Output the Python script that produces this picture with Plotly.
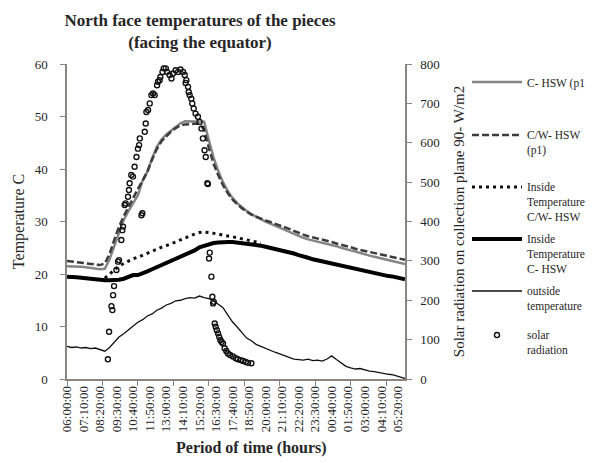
import plotly.graph_objects as go

# ---------------- data ----------------
# time axis: minutes elapsed since 06:00:00
TICK_MINUTES = [0, 70, 140, 210, 280, 350, 420, 490, 560, 630, 700, 770, 840, 910,
                980, 1050, 1120, 1190, 1260, 1330, 1400]
TICK_LABELS = ["06:00:00", "07:10:00", "08:20:00", "09:30:00", "10:40:00", "11:50:00",
               "13:00:00", "14:10:00", "15:20:00", "16:30:00", "17:40:00", "18:50:00",
               "20:00:00", "21:10:00", "22:20:00", "23:30:00", "00:40:00", "01:50:00",
               "03:00:00", "04:10:00", "05:20:00"]

T_MIN = [0, 20, 40, 60, 80, 100, 120, 140, 160, 180, 200, 220, 240, 260, 280, 300, 320, 340,
         360, 380, 400, 420, 440, 460, 480, 500, 520, 540, 560, 580, 600, 620, 640, 660, 680,
         700, 720, 740, 760, 780, 800, 820, 840, 860, 880, 900, 920, 940, 960, 980, 1000,
         1020, 1040, 1060, 1080, 1100, 1120, 1140, 1160, 1180, 1200, 1220, 1240, 1260, 1280,
         1300, 1320, 1340, 1360, 1380, 1400, 1420, 1430]

C_HSW = [21.5, 21.5, 21.4, 21.4, 21.3, 21.2, 21.0, 20.9, 21.0, 22.8, 25.3, 28.0, 30.3, 32.0,
         33.6, 35.0, 37.8, 39.5, 42.0, 44.2, 45.6, 46.6, 47.3, 48.0, 48.7, 49.1, 49.1, 49.1,
         49.1, 49.0, 45.5, 42.2, 39.6, 37.5, 35.8, 34.5, 33.5, 32.7, 32.0, 31.4, 30.9, 30.4,
         30.0, 29.6, 29.2, 28.8, 28.4, 28.0, 27.6, 27.2, 26.9, 26.6, 26.4, 26.2, 26.0, 25.8,
         25.6, 25.3, 25.0, 24.7, 24.5, 24.3, 24.0, 23.8, 23.5, 23.3, 23.1, 22.9, 22.7, 22.5,
         22.3, 22.0, 21.9]

CW_HSW = [22.5, 22.4, 22.3, 22.2, 22.1, 22.0, 21.8, 21.7, 22.0, 23.8, 26.5, 29.0, 31.0, 32.8,
          34.5, 36.2, 37.8, 39.5, 41.8, 43.8, 45.3, 46.3, 47.1, 47.8, 48.3, 48.5, 48.6, 48.6,
          48.6, 47.5, 44.0, 41.0, 38.8, 36.9, 35.4, 34.2, 33.3, 32.5, 31.9, 31.3, 30.9, 30.5,
          30.2, 29.9, 29.6, 29.2, 28.9, 28.6, 28.2, 27.8, 27.5, 27.2, 27.0, 26.8, 26.5, 26.3,
          26.1, 25.8, 25.6, 25.3, 25.1, 24.8, 24.6, 24.4, 24.1, 23.9, 23.7, 23.5, 23.3, 23.1,
          23.0, 22.8, 22.7]

IN_CW_MIN = [160, 180, 200, 220, 240, 260, 280, 300, 320, 340, 360, 380, 400, 420, 440, 460,
             480, 500, 520, 540, 560, 580, 600, 620, 640, 660, 680, 700, 720, 740, 760, 780,
             800, 820]
IN_CW_HSW = [19.2, 20.0, 20.8, 21.5, 22.0, 22.5, 22.9, 23.2, 23.6, 24.0, 24.4, 24.8, 25.1,
             25.4, 25.7, 26.1, 26.5, 26.9, 27.3, 27.6, 27.9, 28.0, 27.9, 27.8, 27.6, 27.4,
             27.3, 27.1, 26.9, 26.7, 26.5, 26.3, 26.1, 25.9]

IN_C_HSW = [19.5, 19.5, 19.4, 19.3, 19.2, 19.0, 18.9, 18.9, 18.8, 18.8, 18.8, 18.9, 19.1, 19.4,
            19.8, 19.8, 20.1, 20.5, 20.9, 21.3, 21.7, 22.1, 22.5, 22.9, 23.2, 23.5, 23.9, 24.5,
            25.1, 25.4, 25.7, 25.9, 26.0, 26.1, 26.1, 26.1, 26.0, 25.9, 25.8, 25.7, 25.5, 25.4,
            25.2, 25.0, 24.8, 24.6, 24.4, 24.2, 23.9, 23.6, 23.4, 23.1, 22.8, 22.6, 22.3, 22.1,
            21.9, 21.7, 21.5, 21.3, 21.1, 20.9, 20.7, 20.5, 20.3, 20.1, 20.0, 19.8, 19.6, 19.5,
            19.3, 19.1, 19.0]

OUTSIDE = [6.2, 6.0, 6.1, 5.9, 6.0, 5.8, 5.9, 5.6, 5.3, 6.0, 7.1, 8.0, 8.6, 9.4, 10.1, 10.8,
           11.3, 12.0, 12.4, 13.1, 13.5, 14.1, 14.4, 14.9, 15.0, 15.3, 15.5, 15.4, 15.8, 15.5,
           15.3, 14.9, 14.3, 13.6, 12.2, 10.9, 9.9, 8.8, 7.8, 7.3, 6.6, 6.2, 5.8, 5.5, 5.1, 4.8,
           4.4, 4.1, 3.8, 3.7, 3.6, 3.8, 3.5, 3.6, 3.4, 3.8, 4.4, 3.7, 3.1, 2.4, 2.1, 1.9, 2.0,
           1.7, 1.5, 1.4, 1.2, 1.1, 0.9, 0.8, 0.5, 0.2, 0.1]

RAD_MIN = [173, 178, 188, 192, 195, 199, 209, 216, 220, 230, 234, 237, 244, 248, 258, 262,
           265, 272, 279, 286, 294, 300, 305, 308, 315, 319, 329, 333, 336, 343, 350, 357,
           364, 371, 381, 385, 392, 395, 404, 409, 418, 423, 434, 442, 448, 460, 470, 480,
           491, 498, 502, 505, 512, 515, 519, 526, 530, 536, 544, 554, 561, 569, 575, 582,
           587, 594, 596, 601, 604, 611, 615, 618, 621, 625, 629, 634, 639, 644, 649, 654,
           660, 667, 674, 681, 690, 702, 714, 723, 735, 745, 756, 766, 780]
RAD = [50, 120, 185, 175, 213, 236, 277, 298, 302, 353, 378, 387, 442, 446, 463, 480, 497,
       518, 514, 539, 564, 585, 594, 611, 416, 421, 628, 649, 678, 683, 700, 721, 725, 721,
       746, 755, 759, 767, 780, 789, 789, 780, 772, 763, 776, 784, 780, 786, 780, 772, 752,
       759, 742, 729, 721, 712, 700, 687, 674, 666, 653, 636, 611, 581, 564, 497, 495, 306,
       321, 260, 209, 192, 196, 141, 133, 124, 116, 107, 99, 94, 90, 78, 71, 65, 61, 57, 53,
       50, 48, 46, 43, 41, 40]

SERIES_NAMES = ["C- HSW (p1", "C/W- HSW<br>(p1)", "Inside<br>Temperature<br>C/W- HSW",
                "Inside<br>Temperature<br>C- HSW", "outside<br>temperature",
                "solar<br>radiation"]

# ---------------- figure ----------------
FONT = "Liberation Serif"
AXIS_COLOR = "#8a857f"
TEXT_COLOR = "#262626"

W, H = 598, 463
ML, MR, MT, MB = 67, 193, 64, 84
PW, PH = W - ML - MR, H - MT - MB


def px_to_paper_x(px):
    return (px - ML) / PW


def px_to_paper_y(py):
    return (H - MB - py) / PH


fig = go.Figure()
fig.add_trace(go.Scatter(x=T_MIN, y=C_HSW, mode="lines", name=SERIES_NAMES[0],
                         line=dict(color="#858585", width=2.5), legend="legend"))
fig.add_trace(go.Scatter(x=T_MIN, y=CW_HSW, mode="lines", name=SERIES_NAMES[1],
                         line=dict(color="#3c3c3c", width=2.5, dash="7px,3px"),
                         legend="legend2"))
fig.add_trace(go.Scatter(x=IN_CW_MIN, y=IN_CW_HSW, mode="lines", name=SERIES_NAMES[2],
                         line=dict(color="#111111", width=3, dash="3px,4px"),
                         legend="legend3"))
fig.add_trace(go.Scatter(x=T_MIN, y=IN_C_HSW, mode="lines", name=SERIES_NAMES[3],
                         line=dict(color="#000000", width=4), legend="legend4"))
fig.add_trace(go.Scatter(x=T_MIN, y=OUTSIDE, mode="lines", name=SERIES_NAMES[4],
                         line=dict(color="#111111", width=1.3), legend="legend5"))
fig.add_trace(go.Scatter(x=RAD_MIN, y=RAD, mode="markers", name=SERIES_NAMES[5],
                         yaxis="y2",
                         marker=dict(symbol="circle-open", size=5, color="#111111",
                                     line=dict(width=1.4, color="#111111")),
                         legend="legend6"))

legend_line_y = [83, 136, 188, 240, 292, 336]
legend_common = dict(
    font=dict(family=FONT, size=11.5, color=TEXT_COLOR),
    bgcolor="rgba(0,0,0,0)", borderwidth=0, itemwidth=50, valign="top",
    xanchor="left", yanchor="top", x=px_to_paper_x(467), tracegroupgap=0,
)
legends = {}
for k, ly in enumerate(legend_line_y):
    key = "legend" if k == 0 else f"legend{k + 1}"
    legends[key] = dict(legend_common, y=px_to_paper_y(ly - 15))

fig.update_layout(
    width=W, height=H,
    margin=dict(l=ML, r=MR, t=MT, b=MB, autoexpand=False),
    paper_bgcolor="white", plot_bgcolor="white",
    font=dict(family=FONT, color=TEXT_COLOR),
    showlegend=True,
    title=dict(text="<b>North face temperatures of the pieces<br>(facing the equator)</b>",
               font=dict(family=FONT, size=17, color=TEXT_COLOR),
               x=200 / W, xanchor="center", xref="container",
               y=1 - 26 / H, yanchor="top", yref="container"),
    xaxis=dict(range=[0, 1430], tickmode="array", tickvals=TICK_MINUTES,
               ticktext=TICK_LABELS, tickangle=-90, ticks="",
               tickfont=dict(family=FONT, size=13, color=TEXT_COLOR),
               showline=True, linecolor=AXIS_COLOR, linewidth=1.5,
               showgrid=False, zeroline=False,
               minor=dict(tickmode="linear", tick0=0, dtick=150, ticks="outside",
                          ticklen=5, tickcolor=AXIS_COLOR, tickwidth=1.2, showgrid=False)),
    yaxis=dict(range=[0, 60], tickmode="linear", tick0=0, dtick=10, ticks="outside",
               ticklen=5, tickcolor=AXIS_COLOR, tickwidth=1.2,
               tickfont=dict(family=FONT, size=13, color=TEXT_COLOR),
               ticklabelstandoff=10,
               showline=True, linecolor=AXIS_COLOR, linewidth=1.5,
               showgrid=False, zeroline=False,
               title=dict(text="Temperature C", font=dict(family=FONT, size=16,
                                                          color=TEXT_COLOR), standoff=6)),
    yaxis2=dict(range=[0, 800], tickmode="linear", tick0=0, dtick=100, ticks="outside",
                ticklen=5, tickcolor=AXIS_COLOR, tickwidth=1.2, overlaying="y", side="right",
                tickfont=dict(family=FONT, size=13, color=TEXT_COLOR),
                ticklabelstandoff=6,
                showline=True, linecolor=AXIS_COLOR, linewidth=1.5,
                showgrid=False, zeroline=False,
                title=dict(text="Solar radiation on collection plane 90- W/m2",
                           font=dict(family=FONT, size=15, color=TEXT_COLOR), standoff=15)),
    annotations=[dict(text="<b>Period of time (hours)</b>", xref="paper", yref="paper",
                      x=px_to_paper_x(251), y=px_to_paper_y(448), xanchor="center",
                      yanchor="middle", showarrow=False,
                      font=dict(family=FONT, size=16, color=TEXT_COLOR))],
    **legends,
)

# the page's default 8px body margin would offset the figure inside the window
fig.write_html("out.html", config={"displayModeBar": False},
               post_script="document.body.style.margin='0px';")
